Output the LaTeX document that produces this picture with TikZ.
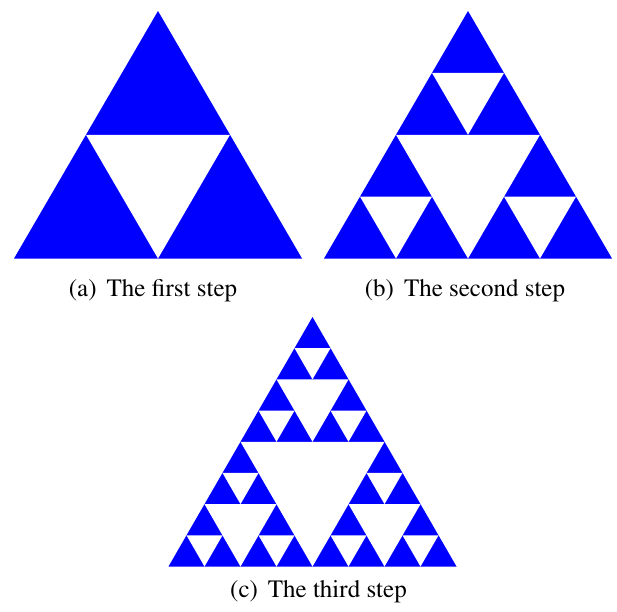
\documentclass[tikz,border=0pt]{standalone}
\usepackage[T1]{fontenc}
\usepackage{times}
\definecolor{sierpblue}{RGB}{0,0,255}
\newcommand\sierpinner[5]{%
 \ifnum#1>0
  \begingroup
  \pgfmathsetmacro\sierpXa{#2-#4/4}%
  \pgfmathsetmacro\sierpXb{#2+#4/4}%
  \pgfmathsetmacro\sierpYm{#3+#5/2}%
  \pgfmathsetmacro\sierpYb{#3+#5}%
  \pgfmathsetmacro\sierpW{#4/2}%
  \pgfmathsetmacro\sierpH{#5/2}%
  \pgfmathtruncatemacro\sierpL{#1-1}%
  \fill[white] (\sierpXa,\sierpYm) -- (\sierpXb,\sierpYm) -- (#2,\sierpYb) -- cycle;
  \edef\sierpNext{\noexpand\sierpinner{\sierpL}{#2}{#3}{\sierpW}{\sierpH}\noexpand\sierpinner{\sierpL}{\sierpXa}{\sierpYm}{\sierpW}{\sierpH}\noexpand\sierpinner{\sierpL}{\sierpXb}{\sierpYm}{\sierpW}{\sierpH}}%
  \sierpNext
  \endgroup
 \fi}
\newcommand\sierpfull[5]{%
  \pgfmathsetmacro\sierpLx{#2-#4/2}%
  \pgfmathsetmacro\sierpRx{#2+#4/2}%
  \pgfmathsetmacro\sierpBy{#3+#5}%
  \fill[sierpblue] (#2,#3) -- (\sierpRx,\sierpBy) -- (\sierpLx,\sierpBy) -- cycle;
  \sierpinner{#1}{#2}{#3}{#4}{#5}}
\tikzset{caption/.style={anchor=base, font=\rmfamily\fontsize{25}{30}\selectfont, inner sep=0pt}}
\begin{document}
\begin{tikzpicture}[x=1pt,y=-1pt]
\useasboundingbox (0,0) rectangle (617,611);
\sierpfull{1}{158}{11}{288}{247.5}
\sierpfull{2}{468}{11}{288}{247.5}
\sierpfull{3}{312.5}{317}{288}{249.5}
\node[caption] (capa) at (153,296) {(a)\hspace{0.4em}The first step};
\node[caption] (capb) at (465,296) {(b)\hspace{0.4em}The second step};
\node[caption] (capc) at (318.5,597) {(c)\hspace{0.4em}The third step};
\end{tikzpicture}
\end{document}
